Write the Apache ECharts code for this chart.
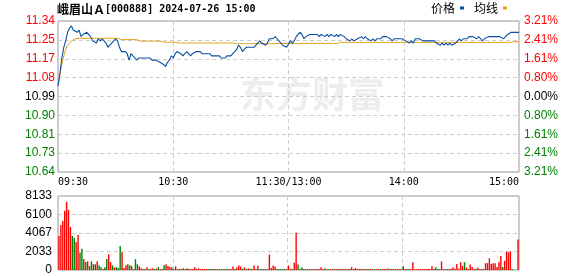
<!DOCTYPE html>
<html><head><meta charset="utf-8">
<script src="https://cdn.jsdelivr.net/npm/echarts@6/dist/echarts.min.js"></script>
<style>html,body{margin:0;padding:0;background:#fff}#c{width:578px;height:276px}</style>
</head><body><div id="c"></div>
<script>
const preClose = 10.99;
const tickIndex = [0, 60, 120, 180, 240];
const tickLabels = ['09:30', '10:30', '11:30/13:00', '14:00', '15:00'];

const price = [
11.04,11.10,11.17,11.22,11.25,11.29,11.31,11.32,11.30,11.30,
11.29,11.30,11.27,11.28,11.28,11.29,11.29,11.27,11.25,11.25,
11.24,11.26,11.25,11.26,11.25,11.24,11.22,11.23,11.24,11.25,
11.26,11.25,11.22,11.20,11.20,11.20,11.19,11.16,11.19,11.18,
11.17,11.16,11.17,11.17,11.17,11.17,11.17,11.17,11.17,11.16,
11.16,11.16,11.16,11.15,11.15,11.14,11.13,11.15,11.16,11.18,
11.17,11.19,11.20,11.20,11.19,11.18,11.19,11.20,11.19,11.18,
11.19,11.19,11.20,11.20,11.20,11.19,11.19,11.19,11.19,11.19,
11.18,11.18,11.18,11.18,11.18,11.17,11.17,11.17,11.18,11.18,
11.18,11.19,11.20,11.21,11.23,11.22,11.20,11.21,11.22,11.22,
11.22,11.22,11.22,11.22,11.24,11.25,11.24,11.24,11.23,11.24,
11.26,11.26,11.26,11.27,11.26,11.25,11.24,11.23,11.23,11.22,
11.22,11.25,11.24,11.25,11.27,11.28,11.29,11.28,11.26,11.27,
11.27,11.28,11.28,11.28,11.28,11.28,11.27,11.28,11.28,11.27,
11.28,11.27,11.28,11.28,11.27,11.28,11.27,11.28,11.28,11.27,
11.26,11.26,11.25,11.26,11.25,11.25,11.26,11.26,11.27,11.26,
11.27,11.26,11.26,11.25,11.26,11.25,11.26,11.26,11.26,11.27,
11.27,11.27,11.27,11.26,11.25,11.26,11.26,11.26,11.26,11.26,
11.26,11.25,11.25,11.24,11.25,11.24,11.26,11.26,11.26,11.26,
11.25,11.25,11.25,11.25,11.25,11.25,11.25,11.24,11.24,11.23,
11.24,11.23,11.24,11.23,11.24,11.23,11.23,11.24,11.25,11.26,
11.25,11.26,11.26,11.26,11.27,11.27,11.27,11.27,11.26,11.27,
11.26,11.25,11.26,11.26,11.27,11.27,11.27,11.27,11.27,11.27,
11.27,11.27,11.26,11.27,11.28,11.28,11.29,11.29,11.29,11.29,
11.29
];

const avgPrice = [
11.04,11.09,11.14,11.18,11.21,11.23,11.24,11.25,11.255,11.26,
11.262,11.262,11.262,11.262,11.262,11.262,11.262,11.262,11.262,11.262,
11.262,11.262,11.262,11.262,11.262,11.262,11.262,11.262,11.262,11.262,
11.262,11.262,11.256,11.256,11.256,11.256,11.256,11.256,11.256,11.256,
11.256,11.256,11.249,11.249,11.249,11.249,11.249,11.249,11.249,11.249,
11.249,11.249,11.249,11.249,11.244,11.244,11.244,11.244,11.244,11.244,
11.244,11.244,11.244,11.240,11.240,11.240,11.240,11.240,11.240,11.240,
11.240,11.240,11.240,11.240,11.240,11.240,11.240,11.240,11.240,11.240,
11.240,11.240,11.240,11.240,11.240,11.240,11.240,11.240,11.240,11.240,
11.240,11.240,11.240,11.237,11.237,11.237,11.237,11.237,11.237,11.237,
11.237,11.237,11.237,11.237,11.237,11.237,11.237,11.237,11.237,11.237,
11.237,11.237,11.237,11.237,11.238,11.238,11.238,11.238,11.238,11.238,
11.238,11.238,11.238,11.238,11.238,11.238,11.238,11.238,11.238,11.238,
11.238,11.238,11.238,11.238,11.238,11.238,11.238,11.238,11.238,11.238,
11.238,11.238,11.238,11.238,11.238,11.238,11.238,11.243,11.243,11.243,
11.243,11.243,11.243,11.243,11.243,11.243,11.243,11.243,11.243,11.243,
11.243,11.243,11.243,11.243,11.243,11.243,11.243,11.243,11.243,11.243,
11.243,11.243,11.243,11.243,11.243,11.243,11.243,11.243,11.243,11.243,
11.243,11.243,11.243,11.243,11.243,11.243,11.243,11.243,11.243,11.243,
11.243,11.243,11.243,11.243,11.243,11.243,11.243,11.243,11.243,11.243,
11.243,11.243,11.243,11.243,11.243,11.243,11.243,11.243,11.243,11.243,
11.243,11.243,11.243,11.243,11.243,11.243,11.243,11.243,11.243,11.243,
11.243,11.243,11.243,11.243,11.243,11.243,11.243,11.243,11.243,11.243,
11.243,11.243,11.243,11.243,11.243,11.243,11.246,11.246,11.246,11.246,
11.246
];

const volume = [
3734,4954,5398,6507,7505,6618,4732,3734,3512,3070,
3845,1885,2329,1220,887,961,444,961,628,628,
961,518,296,111,296,1220,1738,850,518,296,
296,222,2625,1960,222,518,628,518,444,111,
1183,628,407,185,111,111,296,111,111,185,
111,148,333,111,111,518,628,444,333,296,
111,407,111,111,111,185,111,185,111,111,
111,296,111,185,111,111,111,111,111,100,
100,100,100,100,100,100,100,110,110,100,
100,385,100,280,490,385,140,280,100,175,
140,100,490,100,490,100,100,100,100,100,
1700,210,490,385,100,100,100,100,100,100,
490,100,100,805,4100,600,100,280,100,100,
100,100,100,100,100,100,100,300,100,175,
100,100,100,100,100,100,100,100,100,100,
100,100,100,300,100,210,100,100,100,100,
100,100,100,100,100,100,100,100,100,100,
100,100,175,100,100,100,100,100,100,100,
400,100,100,100,100,860,100,100,100,100,
100,100,100,100,100,400,100,300,100,100,
950,100,100,100,100,150,280,150,650,150,
860,450,860,280,110,600,330,110,150,250,
110,110,110,750,750,1290,650,750,750,330,
860,1540,330,1000,2030,1930,2060,110,0,0,
3350
];

const volDir = [
1,1,1,1,1,1,1,-1,-1,1,
1,-1,-1,1,-1,1,-1,-1,1,-1,
1,-1,-1,1,-1,-1,1,1,-1,1,
-1,-1,-1,1,1,1,-1,1,-1,1,
-1,-1,1,1,1,-1,1,-1,1,1,
-1,1,-1,1,-1,-1,1,1,1,-1,
1,1,-1,1,-1,1,1,-1,1,1,
1,1,1,1,1,1,1,1,-1,-1,
1,-1,1,-1,-1,1,-1,1,-1,1,
1,1,-1,1,1,1,-1,1,-1,1,
-1,1,1,-1,1,-1,-1,1,-1,1,
1,1,1,1,-1,-1,-1,-1,-1,1,
1,1,-1,1,1,-1,-1,-1,1,-1,
-1,-1,1,1,1,1,1,1,1,-1,
1,-1,1,-1,1,1,-1,1,1,1,
-1,1,1,1,1,1,1,1,1,1,
-1,1,-1,1,1,-1,1,1,-1,1,
1,1,-1,1,1,-1,1,1,1,1,
-1,1,1,-1,1,1,1,1,1,1,
1,1,1,1,1,1,-1,-1,1,-1,
1,1,1,-1,1,-1,1,1,1,1,
1,1,-1,1,1,1,1,1,-1,1,
1,-1,1,1,1,1,1,1,1,1,
1,1,-1,1,1,1,1,-1,1,1,
1
];

const times = [];
for (let i = 0; i <= 240; i++) {
  const t = i <= 120 ? 9 * 60 + 30 + i : 13 * 60 + (i - 120);
  times.push(String(Math.floor(t / 60)).padStart(2, '0') + ':' + String(t % 60).padStart(2, '0'));
}

const RED = '#ff0000', GREEN = '#008000', BLUE = '#0b4ea2', GOLD = '#e0a21c';
const GRIDC = '#cccccc', BORDER = '#999999';
const pct = p => (p - preClose) / preClose * 100;
const step = 0.803;
const volMax = 8133;

const labelColor = v => { const x = parseFloat(v); return x > 1e-6 ? RED : (x < -1e-6 ? GREEN : '#000'); };

const chart = echarts.init(document.getElementById('c'), null, { renderer: 'canvas' });
chart.setOption({
  animation: false,
  title: {
    text: '{c|峨眉山Ａ}{m|[000888] 2024-07-26 15:00}',
    left: 57, top: 2, padding: 0,
    textStyle: { rich: {
      c: { fontFamily: 'Noto Sans CJK SC', fontSize: 12, color: '#000', lineHeight: 14 },
      m: { fontFamily: 'DejaVu Sans Mono', fontSize: 10, color: '#000', lineHeight: 14 }
    } }
  },
  legend: {
    left: 431, top: 2, padding: 0, align: 'right', icon: 'rect',
    itemWidth: 4, itemHeight: 3, itemGap: 10,
    textStyle: { fontFamily: 'Noto Sans CJK SC', fontSize: 12, color: '#000' },
    data: ['价格', '均线']
  },
  graphic: [{
    type: 'text', left: 240, top: 76, z: -10, silent: true,
    style: { text: '东方财富', font: 'bold 36px "Noto Sans CJK SC"', fill: '#ededed' }
  }],
  grid: [
    { left: 58, right: 59, top: 21, height: 151, show: true, borderColor: BORDER, borderWidth: 1 },
    { left: 58, right: 59, top: 196, height: 74, show: true, borderColor: BORDER, borderWidth: 1 }
  ],
  xAxis: [
    {
      type: 'category', gridIndex: 0, data: times, boundaryGap: false,
      axisLine: { show: false }, axisTick: { show: false },
      axisLabel: {
        interval: i => tickIndex.includes(i),
        formatter: (v, i) => tickLabels[tickIndex.indexOf(i)],
        fontFamily: 'DejaVu Sans Mono', fontSize: 10, color: '#000', margin: 5,
        alignMinLabel: 'left', alignMaxLabel: 'right'
      },
      splitLine: { show: true, interval: i => i > 0 && i < 240 && i % 60 === 0,
        lineStyle: { color: GRIDC, type: [4, 3], width: 1 } }
    },
    {
      type: 'category', gridIndex: 1, data: times, boundaryGap: true,
      axisLine: { show: false }, axisTick: { show: false }, axisLabel: { show: false },
      splitLine: { show: true, interval: i => i > 0 && i < 240 && i % 60 === 0,
        lineStyle: { color: GRIDC, type: [4, 3], width: 1 } }
    }
  ],
  yAxis: [
    {
      type: 'value', gridIndex: 0, min: -4 * step, max: 4 * step, interval: step,
      axisLine: { show: false }, axisTick: { show: false },
      axisLabel: {
        formatter: v => (preClose * (1 + v / 100)).toFixed(2),
        color: labelColor, fontFamily: 'Liberation Sans', fontSize: 12, margin: 3
      },
      splitLine: { show: true, lineStyle: { color: GRIDC, type: [4, 3], width: 1 } }
    },
    {
      type: 'value', gridIndex: 0, position: 'right', min: -4 * step, max: 4 * step, interval: step,
      axisLine: { show: false }, axisTick: { show: false },
      axisLabel: {
        formatter: v => Math.abs(v).toFixed(2) + '%',
        color: labelColor, fontFamily: 'Liberation Sans', fontSize: 12, margin: 5
      },
      splitLine: { show: false }
    },
    {
      type: 'value', gridIndex: 1, min: 0, max: volMax, interval: volMax / 4,
      axisLine: { show: false }, axisTick: { show: false },
      axisLabel: {
        formatter: v => String(Math.round(v)),
        color: '#000', fontFamily: 'Liberation Sans', fontSize: 12, margin: 6
      },
      splitLine: { show: true, lineStyle: { color: GRIDC, type: [4, 3], width: 1 } }
    }
  ],
  series: [
    {
      name: '价格', type: 'line', xAxisIndex: 0, yAxisIndex: 0,
      data: price.map(pct), symbol: 'none', z: 4,
      lineStyle: { color: BLUE, width: 1.1 }, itemStyle: { color: BLUE }
    },
    {
      name: '均线', type: 'line', xAxisIndex: 0, yAxisIndex: 0,
      data: avgPrice.map(pct), symbol: 'none', z: 3,
      lineStyle: { color: GOLD, width: 1 }, itemStyle: { color: GOLD }
    },
    {
      name: '成交量', type: 'bar', xAxisIndex: 1, yAxisIndex: 2, barWidth: 1.4,
      data: volume.map((v, i) => ({ value: v, itemStyle: { color: volDir[i] > 0 ? RED : GREEN } }))
    }
  ]
});
</script>
</body></html>
